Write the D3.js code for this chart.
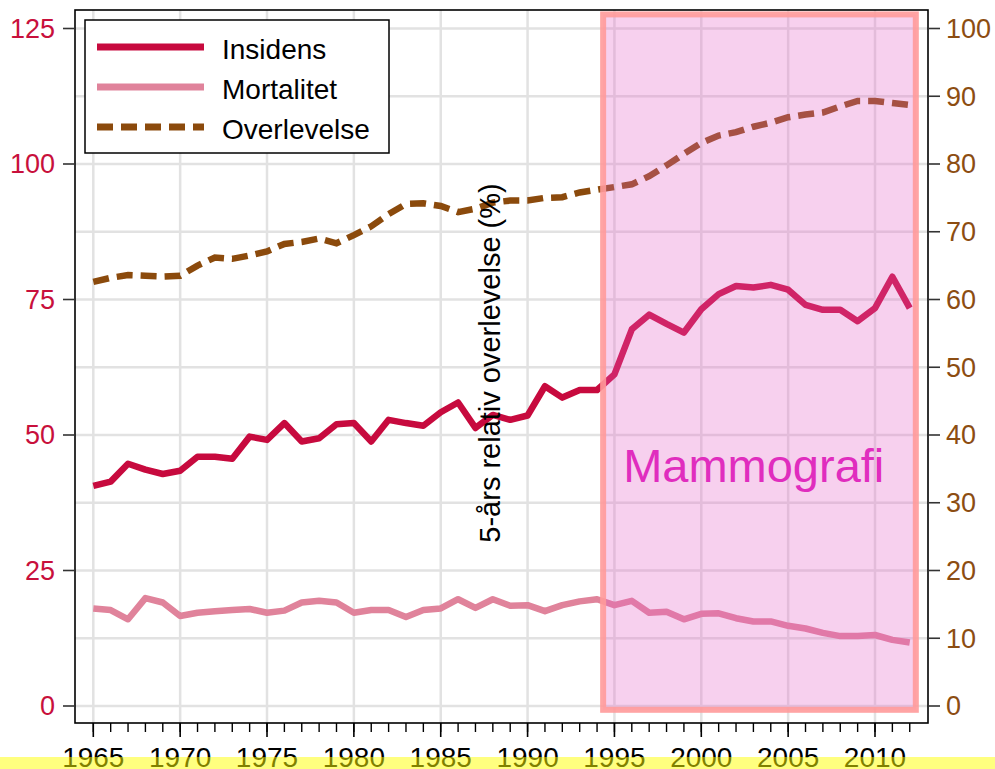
<!DOCTYPE html>
<html><head><meta charset="utf-8">
<script src="https://cdn.jsdelivr.net/npm/d3@7/dist/d3.min.js"></script>
<style>
html,body{margin:0;padding:0;background:#fff;}
svg{display:block;font-family:"Liberation Sans",Arial,sans-serif;}
</style></head>
<body>
<svg id="chart" width="995" height="769"></svg>
<script>
const years = [1965,1966,1967,1968,1969,1970,1971,1972,1973,1974,1975,1976,1977,1978,1979,1980,1981,1982,1983,1984,1985,1986,1987,1988,1989,1990,1991,1992,1993,1994,1995,1996,1997,1998,1999,2000,2001,2002,2003,2004,2005,2006,2007,2008,2009,2010,2011,2012];
const insidens = [40.6,41.4,44.7,43.6,42.8,43.4,46.0,46.0,45.6,49.7,49.1,52.2,48.8,49.4,52.0,52.2,48.8,52.8,52.2,51.7,54.2,56.0,51.3,53.7,52.8,53.6,59.0,56.9,58.3,58.3,61.2,69.5,72.2,70.5,68.9,73.2,76.0,77.5,77.2,77.7,76.8,74.0,73.1,73.1,71.0,73.4,79.2,73.4];
const mortalitet = [18.0,17.7,16.0,19.9,19.1,16.6,17.2,17.5,17.7,17.9,17.2,17.6,19.1,19.4,19.1,17.2,17.7,17.7,16.4,17.7,18.0,19.7,18.1,19.7,18.5,18.6,17.5,18.6,19.3,19.7,18.6,19.4,17.2,17.4,16.0,17.0,17.1,16.2,15.6,15.6,14.8,14.3,13.5,12.9,12.9,13.1,12.2,11.7];
const overlevelse = [62.6,63.2,63.6,63.5,63.4,63.5,65.0,66.2,66.0,66.5,67.1,68.2,68.5,69.0,68.3,69.5,70.8,72.6,74.1,74.2,73.8,72.9,73.4,74.3,74.6,74.6,75.0,75.1,75.8,76.2,76.6,77.0,78.2,79.8,81.5,83.1,84.2,84.7,85.5,86.1,86.9,87.3,87.6,88.5,89.3,89.3,89.0,88.7];
const xTickLabels = [1965,1970,1975,1980,1985,1990,1995,2000,2005,2010];
const leftTicks = [0,25,50,75,100,125];
const rightTicks = [0,10,20,30,40,50,60,70,80,90,100];
const seriesNames = ["Insidens","Mortalitet","Overlevelse"];
const mammografiSpan = [1994.35, 2012.35];
const mammografiLabel = "Mammografi";
const rightTitle = "5-års relativ overlevelse (%)";

const colIns = "#c70a3e", colMort = "#e0839b", colOver = "#8b4a0c";
const colLeftTxt = "#c8103c", colRightTxt = "#8c4d12";

const svg = d3.select("#chart");
const L = 75, R = 928, T = 10, B = 723;

const x = d3.scaleLinear().domain([1965, 2010]).range([93.3, 875]);
const yL = d3.scaleLinear().domain([0, 125]).range([706, 28.5]);
const yR = d3.scaleLinear().domain([0, 100]).range([706, 28.5]);

// grid
const grid = svg.append("g");
grid.selectAll("line.v").data(xTickLabels).join("line")
  .attr("x1", d => x(d)).attr("x2", d => x(d)).attr("y1", T).attr("y2", B)
  .attr("stroke", "#e2e2e2").attr("stroke-width", 2.5);
grid.selectAll("line.h").data(rightTicks).join("line")
  .attr("x1", L).attr("x2", R).attr("y1", d => yR(d)).attr("y2", d => yR(d))
  .attr("stroke", "#e2e2e2").attr("stroke-width", 2.5);

// lines
const lineL = d3.line().x((d, i) => x(years[i])).y(d => yL(d));
const lineR = d3.line().x((d, i) => x(years[i])).y(d => yR(d));
svg.append("path").datum(mortalitet).attr("d", lineL).attr("fill", "none")
  .attr("stroke", colMort).attr("stroke-width", 6.5).attr("stroke-linejoin", "round");
svg.append("path").datum(insidens).attr("d", lineL).attr("fill", "none")
  .attr("stroke", colIns).attr("stroke-width", 6.5).attr("stroke-linejoin", "round");
svg.append("path").datum(overlevelse).attr("d", lineR).attr("fill", "none")
  .attr("stroke", colOver).attr("stroke-width", 6.5).attr("stroke-dasharray", "16,8");

// mammografi overlay
const rx0 = x(mammografiSpan[0]), rx1 = x(mammografiSpan[1]);
const ry0 = yL(127.6), ry1 = yL(-0.7);
svg.append("rect").attr("x", rx0).attr("y", ry0).attr("width", rx1 - rx0).attr("height", ry1 - ry0)
  .attr("fill", "rgb(230,100,200)").attr("fill-opacity", 0.3)
  .attr("stroke", "#ff9a9a").attr("stroke-width", 6).attr("stroke-opacity", 0.9);
svg.append("text").attr("x", rx0 + 20).attr("y", 482).text(mammografiLabel)
  .attr("font-size", 47).attr("fill", "#e02dbe");

// rotated title
svg.append("text").attr("transform", "translate(500,363) rotate(-90)")
  .attr("text-anchor", "middle").attr("font-size", 29).attr("fill", "#000").text(rightTitle);

// frame
svg.append("rect").attr("x", L).attr("y", T).attr("width", R - L).attr("height", B - T)
  .attr("fill", "none").attr("stroke", "#000").attr("stroke-width", 1.6);

// left axis
const ax = svg.append("g");
ax.selectAll("line.lt").data(leftTicks).join("line")
  .attr("x1", L - 12).attr("x2", L).attr("y1", d => yL(d)).attr("y2", d => yL(d))
  .attr("stroke", "#333").attr("stroke-width", 1.6);
ax.selectAll("text.lt").data(leftTicks).join("text")
  .attr("x", 55).attr("y", d => yL(d)).attr("dy", "0.35em").attr("text-anchor", "end")
  .attr("font-size", 27).attr("fill", colLeftTxt).text(d => d);
// right axis
ax.selectAll("line.rt").data(rightTicks).join("line")
  .attr("x1", R).attr("x2", R + 12).attr("y1", d => yR(d)).attr("y2", d => yR(d))
  .attr("stroke", "#333").attr("stroke-width", 1.6);
ax.selectAll("text.rt").data(rightTicks).join("text")
  .attr("x", 946).attr("y", d => yR(d)).attr("dy", "0.35em").attr("text-anchor", "start")
  .attr("font-size", 27).attr("fill", colRightTxt).text(d => d);
// bottom axis
ax.selectAll("line.mt").data(years).join("line")
  .attr("x1", d => x(d)).attr("x2", d => x(d)).attr("y1", B).attr("y2", B + 9)
  .attr("stroke", "#000").attr("stroke-width", 1.4);
ax.selectAll("line.bt").data(xTickLabels).join("line")
  .attr("x1", d => x(d)).attr("x2", d => x(d)).attr("y1", B).attr("y2", B + 14)
  .attr("stroke", "#000").attr("stroke-width", 1.6);
ax.selectAll("text.bt").data(xTickLabels).join("text")
  .attr("x", d => x(d)).attr("y", 767).attr("text-anchor", "middle")
  .attr("font-size", 28).attr("fill", "#000").text(d => d);

// legend
const lg = svg.append("g");
lg.append("rect").attr("x", 85).attr("y", 20).attr("width", 304).attr("height", 133)
  .attr("fill", "#fff").attr("stroke", "#000").attr("stroke-width", 1.5);
const legCols = [colIns, colMort, colOver];
const legDash = [null, null, "16,8"];
seriesNames.forEach((n, i) => {
  const yy = 47 + i * 40;
  lg.append("line").attr("x1", 97).attr("x2", 204).attr("y1", yy).attr("y2", yy)
    .attr("stroke", legCols[i]).attr("stroke-width", 7).attr("stroke-dasharray", legDash[i]);
  lg.append("text").attr("x", 222).attr("y", yy + 12).attr("font-size", 28).attr("fill", "#000").text(n);
});

// yellow band at bottom
svg.append("rect").attr("x", 0).attr("y", 757).attr("width", 995).attr("height", 12)
  .attr("fill", "rgb(255,255,0)").attr("fill-opacity", 0.5);
</script>
</body></html>
